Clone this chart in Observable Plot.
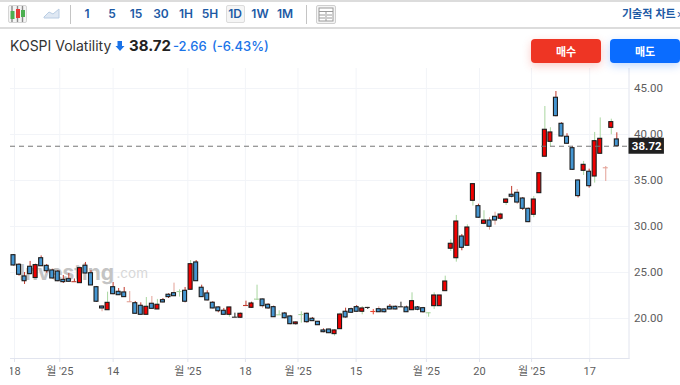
<!DOCTYPE html>
<html lang="ko">
<head>
<meta charset="utf-8">
<script src="https://cdn.jsdelivr.net/npm/d3@7"></script>
<script src="https://cdn.jsdelivr.net/npm/@observablehq/plot@0.6"></script>
<style>
html,body{margin:0;padding:0;background:#fff;overflow:hidden;width:680px;height:385px;font-family:Inter,"Noto Sans CJK KR",sans-serif;}
.abs{position:absolute;white-space:nowrap;}
.hl{position:absolute;left:0;width:680px;height:2px;background:#dcdcdc;}
.tf{position:absolute;top:5px;height:18px;line-height:18px;font-size:12px;font-weight:600;color:#1d5aa5;text-align:center;transform:translateX(-50%);}
.sep{position:absolute;top:5px;width:1px;height:19px;background:#c4c4c4;}
.btn{position:absolute;top:39px;width:70px;height:24px;line-height:24px;border-radius:4px;color:#fff;font-size:11px;font-weight:700;text-align:center;font-family:"Noto Sans CJK KR",sans-serif;}
#chart{position:absolute;left:10px;top:62px;width:670px;height:323px;overflow:hidden;}
#chart svg{overflow:hidden;background:transparent;display:block;}
</style>
</head>
<body>
<div class="hl" style="top:0"></div>
<div class="hl" style="top:27px"></div>
<div class="abs" style="left:8px;top:5px;width:19px;height:18px;border:1px solid #d5d5d5;background:#f4f4f4;border-radius:2px;box-sizing:border-box;">
<svg width="19" height="18" style="position:absolute;left:-1px;top:-1px">
<path d="M4 1V17M9.5 1V17M14.5 1V17" stroke="#8a8a8a" stroke-width="1.4"/>
<rect x="2.5" y="6" width="4" height="8" fill="#4caf50"/><rect x="8" y="4" width="4" height="9" fill="#e53935"/><rect x="13" y="5" width="4" height="7" fill="#4caf50"/>
</svg></div>
<svg class="abs" style="left:43px;top:8px" width="17" height="11"><path d="M1 9L6 4L10 6L16 1V10H1Z" fill="#dfe8f3" stroke="#b9cde3"/></svg>
<div class="sep" style="left:70px"></div>
<div class="tf" style="left:87px">1</div><div class="tf" style="left:112px">5</div><div class="tf" style="left:136px">15</div><div class="tf" style="left:161px">30</div><div class="tf" style="left:186px">1H</div><div class="tf" style="left:210px">5H</div>
<div class="abs" style="left:226px;top:5px;width:19px;height:18px;border:1px solid #dcdcdc;background:#f5f5f5;border-radius:2px;box-sizing:border-box;"></div>
<div class="tf" style="left:235px">1D</div><div class="tf" style="left:260px">1W</div><div class="tf" style="left:285px">1M</div>
<div class="sep" style="left:306px"></div>
<svg class="abs" style="left:316px;top:5px" width="20" height="19"><rect x=".5" y=".5" width="19" height="18" rx="1.5" fill="#f4f4f4" stroke="#cfcfcf"/><rect x="3" y="3" width="14" height="13" fill="#fff" stroke="#9a9a9a"/><path d="M3 6.5H17M10 6.5V16M3 10H9M3 13H9M11 10H16M11 13H16" stroke="#9a9a9a"/></svg>
<div class="abs" style="right:8px;top:5px;font-size:11px;font-weight:700;color:#1d5aa5;font-family:'Noto Sans CJK KR',sans-serif;line-height:17px;width:50px;left:622px">기술적 차트</div>
<div class="abs" style="left:677px;top:6px;font-size:11px;color:#1d5aa5;line-height:17px">›</div>
<div class="abs" style="left:10px;top:37px;font-size:14px;color:#333;line-height:18px">KOSPI Volatility</div>
<svg class="abs" style="left:115px;top:41px" width="10" height="11"><path d="M2.5 0H7V5H9.5L5 10L.5 5H2.5Z" fill="#1a73e8"/></svg>
<div class="abs" style="left:129px;top:37px;font-size:15px;font-weight:700;color:#222;line-height:18px">38.72</div>
<div class="abs" style="left:173px;top:37px;font-size:13px;font-weight:500;color:#1a73e8;line-height:18px">-2.66</div>
<div class="abs" style="left:212px;top:37px;font-size:13px;font-weight:500;color:#1a73e8;line-height:18px">(-6.43%)</div>
<div id="chart"></div>
<div class="btn" style="left:531px;background:#ee3524;box-shadow:0 3px 8px rgba(238,53,36,.25)">매수</div>
<div class="btn" style="left:610px;background:#0a6cff;box-shadow:0 3px 8px rgba(10,108,255,.25)">매도</div>
<script>
const opens = [26.88,25.84,24.57,25.62,24.4,26.55,25.72,25.22,25.1,24.2,24.27,24,23.84,25.73,24.92,23.4,21.3,20.9,23.4,22.9,22.83,21.82,21.66,21.38,20.4,21.6,20.98,21.99,22.58,22.75,22.93,23.01,23.12,26.09,23.34,22.72,21.71,21.2,20.84,20.4,20.14,20.08,21.41,21.16,22.1,22.07,21.49,21.23,20.4,20.54,20.22,19.38,20.43,20.51,19.97,19.64,18.7,18.8,18.3,18.84,20.73,21.01,21.23,20.73,21.2,20.76,21.01,20.98,21.27,21.27,21.27,21.2,20.9,21.2,21.12,20.62,21.34,21.34,22.97,27.58,26.55,28.91,27.9,32.79,32.21,30.29,30.65,31.05,30.84,32.57,33.45,33.66,33.04,31.92,31.27,33.62,37.58,39.2,43.99,41.16,39.75,38.51,35,36.05,35.95,35.43,37.9,36.38,40.72,39.46];
const highs = [26.95,25.95,25,26.2,25.9,26.8,25.87,25.36,25.2,24.67,24.9,24.3,25.58,26.09,25.2,23.48,21.41,22.86,23.91,23.26,23.37,22.93,21.85,21.7,22.28,22.39,22.07,22.17,22.68,23.84,23.12,23.37,26.3,26.3,23.62,23.01,21.82,21.27,21.09,21.2,20.58,20.58,21.88,21.77,23.62,22.14,21.6,21.34,20.84,20.65,20.33,19.6,20.73,20.58,20.11,19.68,18.88,18.84,18.8,20.58,21.12,21.12,21.41,21.3,21.2,20.98,21.27,21.05,21.52,21.34,21.77,21.34,22.79,21.3,21.2,20.62,22.79,22.5,24.6,28.55,31.2,29.13,30.18,34.6,32.42,31.71,30.95,31.55,31.45,33.05,34.35,34.02,33.15,32,33.26,35.79,43.04,40.73,44.67,41.27,40.08,38.7,35.05,37.07,36.23,40.22,41.8,36.52,41.66,40.18];
const lows = [25.7,24.6,23.7,24.75,24.4,25.65,24.92,24.3,24,23.8,23.95,23.95,23.84,24.86,23.59,21.74,20.73,20.9,22.58,22.5,22.28,21.74,20.47,20.36,20.4,21.01,20.98,21.7,22.17,22.39,22.32,21.7,23.12,24.05,22.28,21.92,21.05,20.62,20.36,20.14,20.1,20.05,21.36,21.12,21.96,21.12,21.01,20.11,20.33,19.96,19.32,19.3,19.49,19.49,19.67,19.24,18.45,18.36,18.08,18.84,20.03,20.58,20.68,20.4,20.98,20.4,20.65,20.62,20.95,20.95,21.23,20.65,20.87,20.85,20.6,20.14,20.98,21.34,22.97,27.28,26.12,27.36,27.9,32.21,30.9,30.18,29.6,30.14,30.65,32.28,33.12,32.39,31.74,30.42,30.95,33.62,37.58,38.66,41.92,39.75,38.95,36.1,33.1,35.54,34.16,34.71,37.83,34.89,39.97,38.62];
const closes = [25.76,24.75,24.05,24.82,25.8,25.68,25.14,24.35,24.05,23.95,23.99,24,25.47,24.89,23.59,21.82,21.09,21.7,22.64,22.53,22.32,21.82,20.51,20.4,21.27,21.05,21.49,21.74,22.32,22.42,22.93,21.82,25.9,24.05,22.32,21.96,21.09,20.79,20.4,21.2,20.14,20.51,21.41,21.63,22.1,21.34,21.09,20.14,20.4,20.03,19.38,19.57,20.43,19.6,19.71,19.27,18.51,18.4,18.7,20.43,20.11,20.62,20.73,21.09,21.2,20.76,20.68,20.68,20.98,20.98,21.27,20.68,21.88,20.95,20.68,20.62,22.5,22.5,24.02,28.12,30.54,27.68,29.89,34.6,30.95,30.65,29.97,30.65,31.3,32.93,33.23,32.6,31.92,30.47,32.93,35.79,40.51,40.22,41.99,39.78,38.99,36.16,33.3,36.7,34.38,39.27,39.53,36.38,41.34,38.72];
const wickTones = "rrrrrrrrrrrrrrrrpgrrrprrgpgrrpgrgrrrrrrgkrrrgprrgrrkgrrrrrggrrrgkRprrrkrgkrggggggrggrgppggrprrggggrrrrrgrggpgr".split("");
const yTicks = [20,25,30,35,40,45];
const xTickLabels = ["18","월 '25","14","월 '25","18","월 '25","15","월 '25","20","월 '25","17"];
const xTickIndex = [0.18,8.36,18,31.5,41.9,51.4,61.9,74.6,84.2,93.6,104.1];
const lastPrice = 38.72;

const candles = opens.map((o,i)=>({i,o,h:highs[i],l:lows[i],c:closes[i],w:wickTones[i]}));
const dojis = candles.filter(d=>d.o===d.c);
const bodies = candles.filter(d=>d.o!==d.c);
const toneColor = {g:"#a9d6a0",r:"#c0392b",p:"#e3a196",k:"#222",R:"#e8432e"};
const labelAt = new Map(xTickIndex.map((t,i)=>[t,xTickLabels[i]]));
const grid = "#f2f4f8", frame = "#e1e4ee", ink = "#5d5d5d";
const xMin = -0.54, xMax = 111.2, tagEnd = 117.6;
const axisFont = 'Roboto,"Noto Sans CJK KR",sans-serif';

const svg = Plot.plot({
  width:670, height:323,
  marginLeft:0, marginRight:51.5, marginTop:6, marginBottom:27,
  style:{fontFamily:'Inter,"Noto Sans CJK KR",sans-serif',fontSize:"12px",background:"transparent",color:ink},
  x:{type:"linear",domain:[xMin,xMax]},
  y:{type:"linear",domain:[15.65,47.17]},
  marks:[
    Plot.ruleY(yTicks,{stroke:grid}),
    Plot.ruleX(xTickIndex,{stroke:grid}),
    Plot.text(["Investing"],{x:18.16,y:24.9,text:d=>d,textAnchor:"end",fontSize:21,fontWeight:700,fill:"#c4c4c4"}),
    Plot.text([".com"],{x:18.6,y:24.9,text:d=>d,textAnchor:"start",fontSize:13.5,fill:"#d8d8d8"}),
    Plot.frame({anchor:"bottom",stroke:frame}),
    Plot.frame({anchor:"right",stroke:frame}),
    Plot.axisY({anchor:"right",ticks:yTicks,tickFormat:d3.format(".2f"),tickSize:0,tickPadding:5,fill:ink,fontSize:11.5,fontFamily:axisFont,label:null}),
    Plot.axisX({ticks:xTickIndex,tickFormat:d=>labelAt.get(d),tickSize:4,tickPadding:5,stroke:frame,fill:ink,fontSize:11,fontFamily:axisFont,label:null}),
    Plot.ruleX(candles,{x:"i",y1:"l",y2:"h",stroke:d=>toneColor[d.w],strokeWidth:1}),
    Plot.ruleY(dojis,{y:"c",x1:d=>d.i-0.45,x2:d=>d.i+0.45,stroke:d=>toneColor[d.w],strokeWidth:1.1}),
    Plot.rect(bodies,{
      x1:d=>d.i-0.36,x2:d=>d.i+0.36,y1:"o",y2:"c",
      fill:d=>d.c>d.o?"#f00000":"#4596d2",
      stroke:"#1c1c1c",
      strokeWidth:1.1,
      inset:0
    }),
    Plot.ruleY([lastPrice],{x1:xMin,x2:xMax,stroke:"#777",strokeDasharray:"5,4",strokeWidth:1}),
    Plot.rect([lastPrice],{x1:xMax,x2:tagEnd,y1:d=>d-0.87,y2:d=>d+0.87,fill:"#202020"}),
    Plot.text([lastPrice],{x:(xMax+tagEnd)/2,y:d=>d,text:d=>d.toFixed(2),fill:"#fff",fontWeight:700,fontSize:11.5,fontFamily:axisFont})
  ]
});
document.getElementById("chart").appendChild(svg);
</script>
</body>
</html>
